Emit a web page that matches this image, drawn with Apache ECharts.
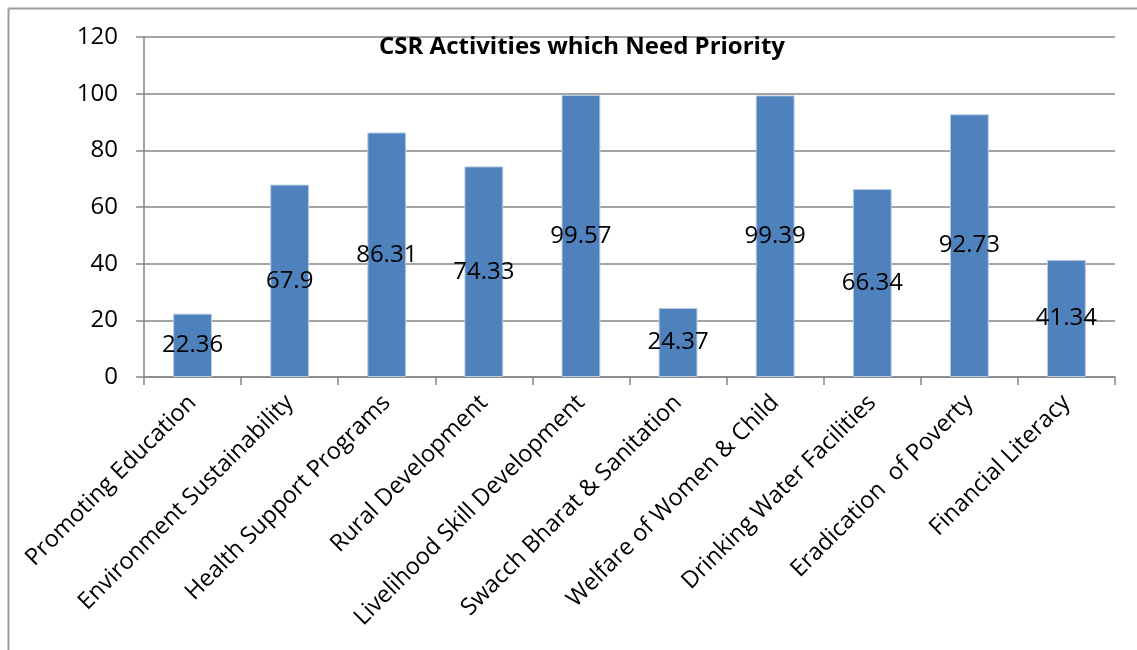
<!DOCTYPE html>
<html>
<head>
<meta charset="utf-8">
<script src="https://cdn.jsdelivr.net/npm/echarts@6/dist/echarts.min.js"></script>
<style>
html,body{margin:0;padding:0;background:#fff;}
#chart{width:1137px;height:650px;}
</style>
</head>
<body>
<div id="chart"></div>
<script>
const categories = [
  'Promoting Education',
  'Environment Sustainability',
  'Health Support Programs',
  'Rural Development',
  'Livelihood Skill Development',
  'Swacch Bharat & Sanitation',
  'Welfare of Women & Child',
  'Drinking Water Facilities',
  'Eradication  of Poverty',
  'Financial Literacy'
];
const values = [22.36, 67.9, 86.31, 74.33, 99.57, 24.37, 99.39, 66.34, 92.73, 41.34];
const titleText = 'CSR Activities which Need Priority';

const chart = echarts.init(document.getElementById('chart'));
const font = "'Open Sans', 'Liberation Sans', sans-serif";
chart.setOption({
  animation: false,
  backgroundColor: '#fff',
  title: {
    text: titleText,
    left: 577, top: 30, textAlign: 'center',
    textStyle: {fontFamily: font, fontWeight: 'bold', fontSize: 24, color: '#000'}
  },
  grid: {left: 144, right: 22, top: 37, bottom: 273, containLabel: false},
  xAxis: {
    type: 'category',
    data: categories,
    boundaryGap: true,
    axisLine: {lineStyle: {color: '#868686', width: 1.5}},
    axisTick: {show: true, length: 8, alignWithLabel: false, lineStyle: {color: '#868686', width: 1.5}},
    axisLabel: {interval: 0, rotate: 45, margin: 22, fontFamily: font, fontSize: 23.5, color: '#000'},
    splitLine: {show: false}
  },
  yAxis: {
    type: 'value',
    min: 0, max: 120, interval: 20,
    axisLine: {show: true, lineStyle: {color: '#868686', width: 1.5}},
    axisTick: {show: true, length: 8, lineStyle: {color: '#868686', width: 1.5}},
    axisLabel: {fontFamily: font, fontSize: 24, color: '#000', margin: 26},
    splitLine: {show: true, lineStyle: {color: '#868686', width: 1.5}}
  },
  series: [{
    type: 'bar',
    data: values,
    barWidth: '40%',
    itemStyle: {color: '#4F81BD', borderColor: '#b7cbe4', borderWidth: 1},
    label: {
      show: true, position: 'inside',
      fontFamily: font, fontSize: 24, color: '#000'
    }
  }],
  graphic: [
    {type: 'line', shape: {x1: 8.5, y1: 8.5, x2: 8.5, y2: 650}, style: {stroke: '#9a9a9a', lineWidth: 2}},
    {type: 'line', shape: {x1: 8.5, y1: 8.5, x2: 1137, y2: 8.5}, style: {stroke: '#9a9a9a', lineWidth: 2}}
  ]
});
</script>
</body>
</html>
